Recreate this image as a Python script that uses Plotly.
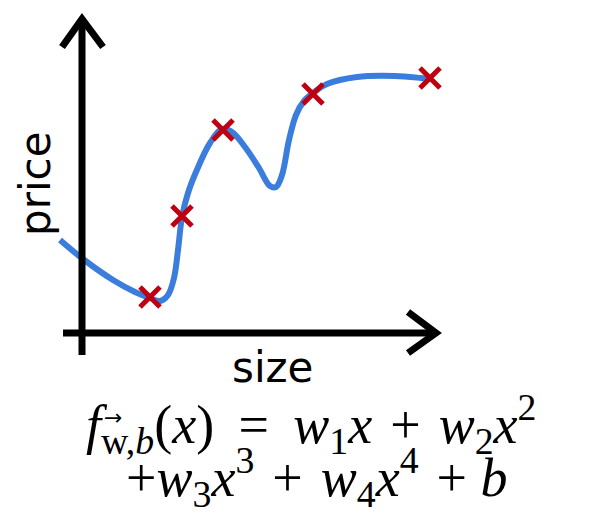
import plotly.graph_objects as go

# fitted curve (size, price)
curve_size = [-22, 1, 31, 53, 68, 78, 86, 92, 96, 100, 106, 114, 128, 140, 150, 163,
              177, 188, 194, 200, 207, 214, 222, 231, 245, 275, 313, 339, 348]
curve_price = [93, 74, 53, 41, 35, 32, 38, 55, 83, 116, 140, 161, 190, 204, 201, 186,
               165, 147, 146, 158, 193, 218, 232, 240, 249, 256, 257, 255, 254]

# training examples
pts_size = [68, 100, 141, 231, 348]
pts_price = [36, 117, 203, 239, 255]

OFF = 8                      # default page body margin
W, H = 590 - OFF, 524 - OFF  # figure size so the page fits the window
X0, Y0 = 82 - OFF, 333 - OFF  # origin position inside the figure


def px(x):
    return (x - OFF) / W


def py(y):
    return 1 - (y - OFF) / H


fig = go.Figure()

fig.add_trace(go.Scatter(
    x=curve_size, y=curve_price, mode="lines",
    line=dict(color="#3b7ddd", width=6, shape="spline", smoothing=1.0),
    hoverinfo="skip", showlegend=False))

fig.add_trace(go.Scatter(
    x=pts_size, y=pts_price, mode="markers",
    marker=dict(symbol="x-thin", size=20, line=dict(color="#bf0010", width=5)),
    hoverinfo="skip", showlegend=False))

axis_line = dict(color="black", width=7)
shapes = [
    dict(type="line", xref="x", yref="y", x0=0, y0=-22, x1=0, y1=314, line=axis_line),
    dict(type="path", xref="x", yref="y", path="M -20,286 L 0,314 L 21,286", line=axis_line),
    dict(type="line", xref="x", yref="y", x0=-19, y0=0, x1=354, y1=0, line=axis_line),
    dict(type="path", xref="x", yref="y", path="M 326,21 L 354,0 L 326,-20", line=axis_line),
]

FORM = dict(family="Liberation Serif", size=54, color="black")
SP = " \u200a"
SPW = " \u2009"
annotations = [
    dict(text="price", x=px(36), y=py(184), xref="paper", yref="paper",
         textangle=-90, showarrow=False, xanchor="center", yanchor="middle",
         font=dict(family="DejaVu Sans", size=42, color="black")),
    dict(text="size", x=px(272), y=py(367), xref="paper", yref="paper",
         showarrow=False, xanchor="center", yanchor="middle",
         font=dict(family="DejaVu Sans", size=42, color="black")),
    dict(text="<i>f</i><sub>w,<i>b</i></sub>(<i>x</i>)" + SPW + "=" + SPW +
              "<i>w</i><sub>1</sub><i>x</i>" + SP + "+" + SP +
              "<i>w</i><sub>2</sub><i>x</i><sup>2</sup>",
         x=px(84), y=py(424), xref="paper", yref="paper",
         showarrow=False, xanchor="left", yanchor="middle", font=FORM),
    dict(text="\u2192", x=px(113), y=py(417), xref="paper", yref="paper",
         showarrow=False, xanchor="center", yanchor="middle",
         font=dict(family="DejaVu Sans", size=22, color="black")),
    dict(text="+<i>w</i><sub>3</sub><i>x</i><sup>3</sup>" + SP + "+" + SP +
              "<i>w</i><sub>4</sub><i>x</i><sup>4</sup>" + SP + "+" + " " + "<i>b</i>",
         x=px(124), y=py(477), xref="paper", yref="paper",
         showarrow=False, xanchor="left", yanchor="middle", font=FORM),
]

fig.update_layout(
    width=W, height=H, margin=dict(l=0, r=0, t=0, b=0),
    paper_bgcolor="white", plot_bgcolor="white",
    xaxis=dict(range=[-X0, W - X0], visible=False, fixedrange=True),
    yaxis=dict(range=[Y0 - H, Y0], visible=False, fixedrange=True),
    shapes=shapes, annotations=annotations, showlegend=False,
)

fig.write_html("out.html")
